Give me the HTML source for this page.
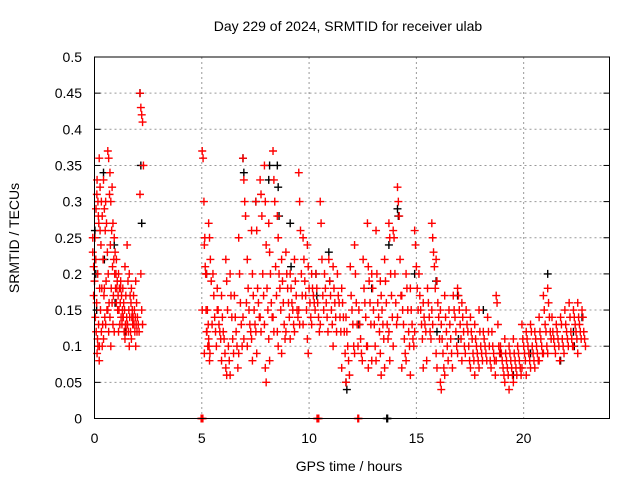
<!DOCTYPE html>
<html><head><meta charset="utf-8"><style>
html,body{margin:0;padding:0;background:#fff;}
svg{display:block;font-family:"Liberation Sans",sans-serif;}
</style></head><body>
<svg id="chart" width="640" height="480" viewBox="0 0 640 480">
<text x="348" y="31" font-size="14" text-anchor="middle" fill="#000">Day 229 of 2024, SRMTID for receiver ulab</text>
<text x="349" y="471" font-size="14" text-anchor="middle" fill="#000">GPS time / hours</text>
<text transform="translate(19,238) rotate(-90)" font-size="14" text-anchor="middle" fill="#000">SRMTID / TECUs</text>
<g id="grid"></g>
<g id="ticks"></g>
<g id="black-series"></g>
<g id="red-series"></g>
<rect x="94.5" y="57" width="515" height="361.5" fill="none" stroke="#000" stroke-width="1"/>
</svg>
<script>
const xTicks = [0, 5, 10, 15, 20];
const yTicks = [0, 0.05, 0.1, 0.15, 0.2, 0.25, 0.3, 0.35, 0.4, 0.45, 0.5];
const yTickLabels = ["0","0.05","0.1","0.15","0.2","0.25","0.3","0.35","0.4","0.45","0.5"];
const redTimes = [0.0,0.1,0.15,0.2,0.3,0.4,0.5,0.6,0.7,0.8,0.9,1.0,1.1,1.2,1.3,1.4,1.5,1.6,1.7,1.8,1.9,2.0,2.2,
5.05,5.1,5.2,5.3,5.4,5.6,5.8,6.0,6.2,6.4,6.6,6.8,7.0,7.2,7.4,7.6,7.8,8.0,8.2,8.4,8.6,8.8,9.0,9.2,9.4,9.6,9.8,10.0,10.2,10.4,10.45,10.6,10.8,11.0,11.2,11.4,11.6,11.8,12.0,12.2,12.35,12.4,12.6,12.8,13.0,13.2,13.4,13.6,13.8,14.0,14.2,14.4,14.6,14.8,15.0,15.2,15.4,15.6,15.8,16.0,16.2,16.4,16.6,16.8,17.0,17.2,17.4,17.6,17.8,18.0,18.2,18.4,18.6,18.8,19.0,19.2,19.4,19.6,19.8,20.0,20.2,20.4,20.6,20.8,21.0,21.2,21.4,21.6,21.8,22.0,22.2,22.4,22.6,22.8];
const redValues = [
[0.23,0.21,0.19,0.14,0.12,0.25,0.17],[0.25,0.22,0.16,0.11,0.28],[0.29,0.31,0.2,0.13,0.1],[0.33,0.3,0.27,0.18,0.15,0.09,0.1],
[0.36,0.32,0.24,0.18,0.13,0.08,0.26],[0.3,0.28,0.22,0.17,0.14,0.12,0.1],[0.33,0.29,0.26,0.19,0.15,0.11,0.18],[0.3,0.27,0.23,0.2,0.16,0.13],
[0.37,0.36,0.31,0.24,0.18,0.15,0.12],[0.34,0.3,0.26,0.21,0.17,0.14,0.1],[0.32,0.27,0.22,0.2,0.18,0.16,0.13],[0.25,0.23,0.2,0.18,0.15,0.12],
[0.22,0.19,0.17,0.15,0.13,0.16],[0.2,0.18,0.16,0.14,0.13,0.12],[0.19,0.17,0.15,0.14,0.12,0.18],[0.18,0.16,0.15,0.13,0.12,0.14],
[0.21,0.17,0.14,0.13,0.12,0.11],[0.24,0.19,0.15,0.14,0.12,0.13],[0.2,0.17,0.16,0.14,0.13,0.1],[0.18,0.15,0.14,0.13,0.12,0.11],
[0.17,0.15,0.14,0.13,0.12,0.13],[0.19,0.16,0.14,0.13,0.12,0.1],[0.45,0.43,0.42,0.41,0.35,0.31,0.2,0.15,0.13],
[0,0,0],[0.37,0.36,0.3,0.25,0.2,0.15],[0.24,0.21,0.15,0.12,0.1,0.09],[0.2,0.15,0.13,0.1,0.09,0.12],[0.27,0.25,0.22,0.19,0.13,0.11,0.08],
[0.2,0.17,0.14,0.12,0.1],[0.18,0.15,0.13,0.12,0.11,0.15],[0.17,0.14,0.12,0.11,0.09,0.08],[0.22,0.19,0.15,0.1,0.08,0.07,0.06],
[0.2,0.17,0.14,0.11,0.09,0.06],[0.17,0.14,0.12,0.1,0.07],[0.25,0.2,0.16,0.13,0.1,0.09],[0.36,0.33,0.3,0.28,0.16,0.14,0.11],
[0.22,0.18,0.15,0.13,0.12,0.1],[0.26,0.2,0.17,0.15,0.13,0.11,0.08],[0.3,0.26,0.18,0.16,0.14,0.12,0.09],[0.33,0.31,0.28,0.2,0.17,0.14,0.12],
[0.35,0.3,0.24,0.18,0.15,0.13,0.07,0.05],[0.27,0.23,0.2,0.16,0.14,0.11,0.08],[0.37,0.33,0.3,0.21,0.17,0.14,0.12],[0.28,0.25,0.2,0.18,0.15,0.12,0.1],
[0.22,0.19,0.16,0.13,0.11,0.09],[0.23,0.2,0.18,0.16,0.14,0.12],[0.2,0.18,0.16,0.15,0.13,0.11],[0.22,0.19,0.17,0.15,0.14,0.12],
[0.34,0.3,0.26,0.2,0.17,0.15,0.13],[0.25,0.22,0.19,0.17,0.15,0.13],[0.24,0.21,0.18,0.16,0.14,0.11,0.09],[0.2,0.18,0.17,0.16,0.15,0.13],
[0.2,0.18,0.16,0.14,0.12],[0,0,0],[0.3,0.27,0.22,0.17,0.15,0.13],[0.2,0.18,0.16,0.14,0.12],[0.22,0.19,0.17,0.15,0.13],
[0.21,0.18,0.16,0.14,0.12,0.1],[0.2,0.17,0.16,0.14,0.12],[0.18,0.16,0.14,0.12,0.09,0.07],[0.14,0.12,0.1,0.08,0.06,0.05],
[0.21,0.17,0.15,0.13,0.1],[0.24,0.2,0.16,0.13,0.1,0.09],[0,0],[0.15,0.13,0.11,0.09,0.08],[0.22,0.18,0.16,0.14,0.1],
[0.27,0.21,0.19,0.16,0.13,0.1,0.07],[0.2,0.18,0.15,0.13,0.1,0.08],[0.26,0.2,0.16,0.14,0.12,0.08],[0.19,0.17,0.15,0.13,0.11,0.09,0.06],
[0.22,0.19,0.16,0.13,0.11,0.07],[0.27,0.25,0.2,0.17,0.14,0.12,0.08],[0.26,0.25,0.2,0.16,0.13,0.1],[0.32,0.3,0.28,0.22,0.17,0.14],
[0.17,0.15,0.13,0.11,0.09,0.07],[0.2,0.18,0.15,0.12,0.1,0.08],[0.18,0.15,0.13,0.11,0.1,0.06],[0.26,0.24,0.21,0.18,0.15,0.12],
[0.2,0.17,0.15,0.13,0.11],[0.16,0.14,0.13,0.12,0.08,0.07],[0.18,0.16,0.14,0.12,0.11],[0.27,0.25,0.23,0.21,0.18,0.15,0.13],
[0.22,0.19,0.16,0.14,0.11,0.09,0.07],[0.15,0.13,0.11,0.09,0.07,0.05,0.04],[0.17,0.14,0.12,0.1,0.08,0.06],[0.15,0.13,0.11,0.09,0.07],
[0.17,0.15,0.14,0.12,0.1],[0.18,0.17,0.15,0.13,0.11,0.09],[0.16,0.14,0.12,0.1,0.09,0.08],[0.15,0.13,0.12,0.1,0.08],
[0.14,0.12,0.11,0.09,0.08,0.07],[0.13,0.11,0.1,0.09,0.08,0.06],[0.15,0.12,0.1,0.09,0.08,0.07],[0.12,0.11,0.1,0.09,0.08],
[0.14,0.12,0.1,0.08,0.07],[0.12,0.1,0.09,0.08,0.06],[0.17,0.16,0.13,0.1,0.09,0.08],[0.1,0.09,0.08,0.07,0.06],
[0.11,0.09,0.08,0.07,0.06,0.05],[0.1,0.09,0.08,0.07,0.06,0.04],[0.11,0.09,0.08,0.07,0.06,0.05],[0.1,0.09,0.08,0.07,0.06],
[0.13,0.11,0.1,0.09,0.08,0.07],[0.12,0.11,0.1,0.09,0.08,0.06],[0.13,0.12,0.1,0.09,0.08,0.07],[0.12,0.11,0.1,0.09,0.08,0.07],
[0.14,0.12,0.11,0.1,0.09,0.08],[0.17,0.15,0.13,0.12,0.1,0.09],[0.18,0.16,0.14,0.12,0.11,0.09],[0.14,0.12,0.11,0.1,0.09],
[0.13,0.12,0.11,0.1,0.08],[0.14,0.13,0.11,0.1,0.09],[0.15,0.13,0.12,0.11,0.1],[0.16,0.14,0.12,0.11,0.1],
[0.15,0.14,0.13,0.12,0.11,0.1],[0.16,0.14,0.13,0.12,0.11,0.09],[0.15,0.14,0.12,0.11,0.1]];
const blackTimes = [0.1,0.5,1.0,1.5,2.2,5.3,7.0,7.6,8.2,8.6,9.2,10.4,11.0,11.8,12.4,13.0,13.7,13.8,14.2,15.0,16.0,17.0,18.2,19.0,19.6,20.4,21.2,21.8,22.4,22.8];
const blackValues = [[0.26,0.2,0.15],[0.34,0.22],[0.24,0.16],[0.12],[0.45,0.35,0.27],[0.2],[0.36,0.34],[0.3],[0.33,0.35],[0.35,0.32,0.28],[0.27,0.21],[0.2,0.17],[0.23,0.19],[0.05,0.04],[0.13],[0.18],[0,0],[0.24],[0.29,0.28],[0.2],[0.19,0.12],[0.17,0.11],[0.15],[0.09],[0.06],[0.09],[0.2],[0.08],[0.12,0.1],[0.14]];

const NS = "http://www.w3.org/2000/svg";
const X0 = 94.5, X1 = 609.5, Y0 = 418.5, Y1 = 57;
function xScale(t){ return X0 + (t / 24) * (X1 - X0); }
function yScale(v){ return Y0 - (v / 0.5) * (Y0 - Y1); }
function mk(tag, attrs){ const e = document.createElementNS(NS, tag); for (const k in attrs) e.setAttribute(k, attrs[k]); return e; }

const grid = document.getElementById('grid'), ticks = document.getElementById('ticks');
yTicks.forEach((v, i) => {
  const y = yScale(v);
  if (i > 0 && i < yTicks.length - 1) {
    const g = mk('line', {x1: X0, x2: X1, y1: y, y2: y, stroke: '#999', 'stroke-dasharray': '2,3', 'stroke-width': 1});
    
    
    grid.appendChild(g);
  }
  const t1 = mk('line', {x1: X0, x2: X0 + 6, y1: y, y2: y, stroke: '#000'});
  
  
  ticks.appendChild(t1);
  const t2 = mk('line', {x1: X1 - 6, x2: X1, y1: y, y2: y, stroke: '#000'});
  
  
  ticks.appendChild(t2);
  const lb = mk('text', {x: 82, y: y + 5, 'font-size': 14, 'text-anchor': 'end', fill: '#000'});
  lb.textContent = yTickLabels[i];
  
  
  ticks.appendChild(lb);
});
xTicks.forEach(t => {
  const x = xScale(t);
  if (t > 0) {
    const g = mk('line', {x1: x, x2: x, y1: Y1, y2: Y0, stroke: '#999', 'stroke-dasharray': '2,3', 'stroke-width': 1});
    
    
    grid.appendChild(g);
  }
  const lb = mk('text', {x: x, y: 443, 'font-size': 14, 'text-anchor': 'middle', fill: '#000'});
  lb.textContent = String(t);
  
  
  ticks.appendChild(lb);
});

function drawSeries(gid, times, values, color, name){
  const g = document.getElementById(gid);
  times.forEach((t, i) => {
    const vals = values[i];
    vals.forEach((v, j) => {
      const x = xScale(t + (j % 5) * 0.04 - 0.08), y = yScale(v);
      const p = mk('path', {d: `M${x-4},${y}H${x+4}M${x},${y-4}V${y+4}`, stroke: color, 'stroke-width': 1.4, fill: 'none'});
      
      
      g.appendChild(p);
    });
  });
}
drawSeries('black-series', blackTimes, blackValues, '#000', 'black-point');
drawSeries('red-series', redTimes, redValues, '#ff0000', 'red-point');
</script>
</body></html>
